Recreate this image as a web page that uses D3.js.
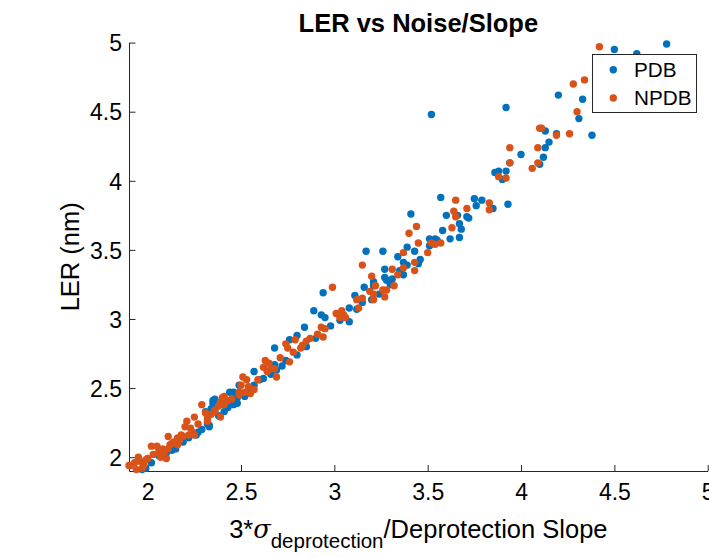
<!DOCTYPE html>
<html>
<head>
<meta charset="utf-8">
<script src="https://cdn.jsdelivr.net/npm/d3@7"></script>
<style>
  html, body { margin: 0; padding: 0; background: #fff; }
  svg { display: block; }
  text { font-family: "Liberation Sans", Arial, Helvetica, sans-serif; fill: #000; }
</style>
</head>
<body>
<script>
// ---------- data ----------
const title = "LER vs Noise/Slope";
const yLabel = "LER (nm)";
const seriesNames = ["PDB", "NPDB"];
const seriesColors = ["#0072BD", "#D95319"];
const xDomain = [1.9, 5];
const yDomain = [1.9, 5];
const xTicks = [2, 2.5, 3, 3.5, 4, 4.5, 5];
const yTicks = [2, 2.5, 3, 3.5, 4, 4.5, 5];

const pdbX = [4.78,4.50,4.62,4.20,4.33,3.92,3.52,4.31,4.13,4.19,4.38,4.15,4.13,4.00,4.12,3.94,4.10,3.86,3.88,3.92,3.90,3.57,3.75,3.79,3.76,3.93,3.41,3.60,3.66,3.71,3.72,3.67,3.58,3.68,3.67,3.51,3.54,3.55,3.39,3.51,3.43,3.17,3.26,3.34,3.46,3.37,3.39,3.35,3.27,3.37,3.27,3.28,3.31,3.16,3.21,3.21,3.24,2.94,3.11,3.15,3.20,3.08,2.89,2.93,2.95,3.08,2.84,2.80,2.76,2.68,2.80,2.85,2.74,2.68,2.69,2.57,2.60,2.49,2.46,2.48,2.57,2.44,2.36,2.35,2.46,2.48,2.41,2.31,2.35,2.34,2.33,2.13,2.15,2.26,2.27,2.32,2.33,1.97,1.99,2.02,2.06,2.10,2.19,2.22,2.29,2.38,2.43,2.52,2.55,2.62,2.66,2.72,2.90,2.98,3.03,3.12,3.30,3.45,3.62,3.85];
const pdbY = [4.99,4.95,4.92,4.62,4.59,4.53,4.48,4.45,4.36,4.34,4.33,4.28,4.24,4.19,4.17,4.13,4.12,4.06,4.07,4.07,4.01,3.88,3.87,3.86,3.82,3.83,3.76,3.75,3.75,3.74,3.73,3.69,3.64,3.65,3.59,3.58,3.58,3.57,3.52,3.53,3.49,3.49,3.49,3.45,3.43,3.41,3.39,3.35,3.36,3.32,3.30,3.28,3.29,3.23,3.24,3.27,3.18,3.19,3.17,3.12,3.14,3.08,3.06,3.03,3.01,2.98,2.94,2.88,2.85,2.79,2.74,2.80,2.70,2.67,2.63,2.62,2.56,2.52,2.47,2.43,2.52,2.47,2.42,2.39,2.38,2.39,2.33,2.33,2.41,2.35,2.23,2.05,2.06,2.16,2.18,2.24,2.22,1.91,1.92,1.96,2.01,2.03,2.11,2.14,2.20,2.30,2.36,2.44,2.50,2.57,2.60,2.66,2.86,2.95,2.99,3.07,3.25,3.40,3.58,3.80];

const npdbX = [4.42,4.34,4.28,4.30,4.10,4.11,4.19,4.26,3.94,4.09,3.94,4.09,4.06,3.88,3.92,3.65,3.83,3.71,3.83,3.64,3.65,3.44,3.63,3.40,3.45,3.52,3.54,3.57,3.37,3.50,3.43,3.15,3.37,3.43,3.31,3.34,3.20,3.22,3.32,3.19,3.21,3.26,3.28,3.27,2.99,3.15,3.12,3.21,3.13,3.01,3.04,3.05,3.03,3.06,2.93,2.95,2.91,2.94,2.87,2.85,2.83,2.82,2.79,2.74,2.75,2.78,2.71,2.76,2.63,2.65,2.62,2.66,2.64,2.69,2.51,2.53,2.50,2.54,2.52,2.55,2.49,2.49,2.57,2.41,2.39,2.41,2.43,2.36,2.38,2.29,2.40,2.36,2.39,2.31,2.32,2.32,2.25,2.21,2.20,2.23,2.24,2.25,2.22,2.19,2.17,2.16,2.14,2.16,2.13,2.11,2.11,2.09,2.06,2.05,2.02,2.03,2.10,2.07,1.95,1.96,1.93,1.97,1.94,1.91,1.90,1.98,1.99,2.00,2.08,2.12,2.18,2.27,2.34,2.45,2.59,2.68];
const npdbY = [4.97,4.73,4.70,4.50,4.38,4.38,4.33,4.34,4.24,4.24,4.13,4.13,4.09,4.03,4.02,3.86,3.84,3.80,3.79,3.78,3.74,3.67,3.66,3.62,3.55,3.55,3.54,3.55,3.48,3.48,3.41,3.39,3.37,3.35,3.36,3.32,3.31,3.24,3.24,3.20,3.18,3.21,3.21,3.16,3.23,3.15,3.14,3.14,3.08,3.04,3.06,3.03,3.01,3.01,2.94,2.93,2.89,2.87,2.86,2.84,2.81,2.79,2.85,2.82,2.79,2.76,2.72,2.69,2.70,2.68,2.65,2.64,2.62,2.58,2.58,2.56,2.52,2.51,2.47,2.46,2.47,2.45,2.49,2.44,2.40,2.38,2.41,2.34,2.37,2.38,2.43,2.33,2.29,2.32,2.28,2.26,2.29,2.26,2.22,2.21,2.18,2.16,2.16,2.15,2.12,2.14,2.11,2.09,2.10,2.15,2.06,2.04,2.04,2.08,2.08,2.02,1.99,2.00,2.00,1.97,1.96,1.92,1.91,1.94,1.94,1.94,1.98,1.99,2.06,2.09,2.16,2.24,2.31,2.42,2.56,2.64];

// ---------- layout ----------
const W = 709, H = 558;
const mLeft = 129, mRight = 707.7, mTop = 42.6, mBottom = 471;

const svg = d3.select("body").append("svg").attr("width", W).attr("height", H);

const x = d3.scaleLinear().domain(xDomain).range([mLeft, mRight]);
const y = d3.scaleLinear().domain(yDomain).range([mBottom, mTop]);

// axes (MATLAB style: inward ticks, box off)
const axisColor = "#262626";
const xAxis = svg.append("g").attr("transform", `translate(0,${mBottom})`)
  .call(d3.axisBottom(x).tickValues(xTicks).tickSizeInner(-6).tickSizeOuter(0).tickPadding(13)
        .tickFormat(d3.format("")));
const yAxis = svg.append("g").attr("transform", `translate(${mLeft},0)`)
  .call(d3.axisLeft(y).tickValues(yTicks).tickSizeInner(-6.5).tickSizeOuter(0).tickPadding(7)
        .tickFormat(d3.format("")));
[xAxis, yAxis].forEach(g => {
  g.select(".domain").attr("stroke", axisColor);
  g.selectAll(".tick line").attr("stroke", axisColor);
  g.selectAll(".tick text").attr("fill", "#262626").style("font-size", "23px")
    .style("font-family", '"Liberation Sans", Arial, Helvetica, sans-serif');
});
xAxis.selectAll(".tick text").attr("dy", "0.71em");
yAxis.selectAll(".tick text").attr("dy", "0.36em");

// points
const pdb = pdbX.map((v, i) => ({x: v, y: pdbY[i]}));
const npdb = npdbX.map((v, i) => ({x: v, y: npdbY[i]}));
const r = 3.7;
svg.append("g").selectAll("circle").data(pdb).join("circle")
  .attr("cx", d => x(d.x)).attr("cy", d => y(d.y)).attr("r", r).attr("fill", seriesColors[0]);
svg.append("g").selectAll("circle").data(npdb).join("circle")
  .attr("cx", d => x(d.x)).attr("cy", d => y(d.y)).attr("r", r).attr("fill", seriesColors[1]);

// title
svg.append("text").attr("x", (mLeft + mRight) / 2).attr("y", 31.5)
  .attr("text-anchor", "middle").style("font-size", "25.5px").style("font-weight", "bold")
  .text(title);

// y label
svg.append("text").attr("transform", `translate(79,${(mTop + mBottom) / 2}) rotate(-90)`)
  .attr("text-anchor", "middle").style("font-size", "25.5px").attr("fill", "#262626").text(yLabel);

// x label with sigma + subscript
const xl = svg.append("text").attr("x", (mLeft + mRight) / 2).attr("y", 538)
  .attr("text-anchor", "middle").style("font-size", "25.5px").attr("fill", "#262626");
xl.append("tspan").text("3*");
xl.append("tspan").style("font-style", "italic").style("font-family", '"DejaVu Serif", serif').text("σ");
xl.append("tspan").attr("dy", 10).style("font-size", "20.5px").text("deprotection");
xl.append("tspan").attr("dy", -10).text("/Deprotection Slope");

// legend
const lg = svg.append("g");
lg.append("rect").attr("x", 592.5).attr("y", 54.5).attr("width", 104).attr("height", 58)
  .attr("fill", "#fff").attr("stroke", axisColor).attr("stroke-width", 1);
seriesNames.forEach((name, i) => {
  const cy = 69.7 + i * 28.3;
  lg.append("circle").attr("cx", 613.3).attr("cy", cy).attr("r", r).attr("fill", seriesColors[i]);
  lg.append("text").attr("x", 634).attr("y", cy).attr("dy", "0.36em")
    .style("font-size", "20.7px").text(name);
});
</script>
</body>
</html>
